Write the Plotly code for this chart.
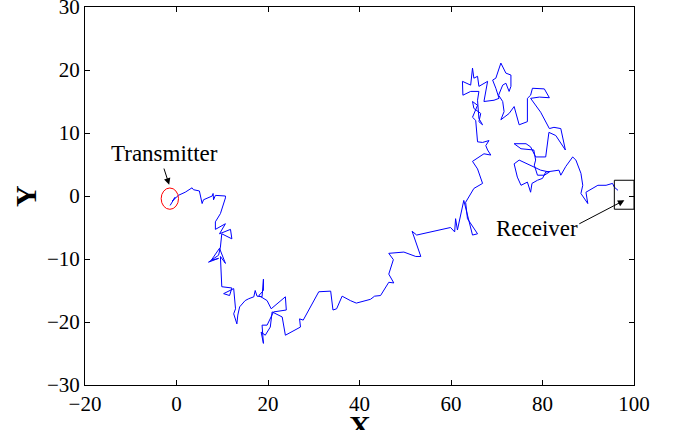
import plotly.graph_objects as go

# Random-walk path (data units)
path_x = [-1.4, -0.3, -0.9, 0.4, 1.9, 3.4, 3.7, 5.0, 5.6, 5.9, 6.7, 7.8, 8.0, 8.1, 8.5, 10.7, 10.7,
          9.6, 8.5, 8.5, 10.7, 9.4, 11.8, 12.1, 9.9, 9.6, 9.2, 7.0, 9.2, 7.6, 9.4, 10.7, 9.6,
          9.9, 12.1, 11.6, 10.3, 12.5, 12.9, 12.5, 13.2, 13.4, 13.8, 15.0, 15.8, 16.9, 17.2, 17.6,
          18.7, 19.0, 19.0, 18.0, 19.8, 20.7, 23.8, 24.0, 21.2, 19.8, 18.7, 19.0, 18.5, 19.4, 20.5,
          20.9, 23.1, 23.8, 27.1, 26.9, 27.7, 31.1, 33.7, 34.2, 35.0, 36.2, 38.0, 39.3, 42.4, 43.3,
          44.6, 46.4, 47.5, 46.4, 47.4, 46.4, 49.7, 52.3, 53.4, 51.9, 51.5, 52.5,
          59.9, 60.8, 61.0, 61.4, 62.8, 64.7, 65.8, 63.6, 63.2, 65.0, 66.9, 65.8, 64.7, 67.2, 68.7,
          68.0, 67.6, 68.3, 66.9, 65.8, 65.4, 64.7, 65.8,
          64.7, 65.0, 66.5, 66.1, 66.9, 66.1, 65.8, 66.1, 64.3, 62.6, 62.5, 64.3, 64.7, 65.0, 65.8,
          66.1, 68.0, 67.2, 69.4, 70.5, 69.8, 69.1, 69.8, 70.2, 70.9, 72.0, 73.1, 73.1, 72.7, 72.0,
          71.3, 70.4, 71.3, 71.6, 70.9, 72.7, 73.8, 74.9, 76.7, 76.7, 77.4, 77.8, 80.4, 81.5, 79.3,
          77.4, 79.6, 81.5, 82.5, 84.0, 85.0, 82.9, 81.4, 80.7, 78.5, 77.4, 76.4, 73.8, 75.3, 78.1,
          78.5, 78.2, 78.9, 80.4, 81.5, 79.6, 74.9, 73.8, 74.5, 75.3, 76.7, 77.4, 77.7, 78.9, 80.0,
          80.7, 83.6, 84.0, 85.1, 86.6, 87.3, 88.4, 88.8, 88.4, 89.9, 89.5, 92.1, 93.9, 95.3, 95.7,
          96.5]
path_y = [-1.5, -0.2, -0.8, 0.1, 0.6, 1.3, 1.0, 0.8, -1.2, -0.6, -0.4, 0.0, 0.4, -0.6, 0.1, 0.0, -0.3,
          -2.8, -4.1, -5.3, -4.4, -6.0, -5.3, -6.8, -6.0, -8.1, -9.4, -10.5, -9.9, -10.2, -8.3, -10.7, -9.6,
          -14.4, -14.6, -15.8, -15.5, -14.7, -17.9, -18.7, -20.3, -18.9, -17.6, -16.6, -16.3, -16.0, -15.0, -15.9,
          -16.0, -13.2, -15.0, -15.8, -16.6, -17.9, -16.0, -18.1, -18.4, -20.5, -20.5, -23.4, -21.6, -22.1, -20.8,
          -18.4, -19.2, -22.1, -20.8, -19.5, -19.7, -15.2, -15.1, -18.1, -17.9, -15.9, -16.6, -17.0, -16.4, -15.9,
          -15.8, -13.7, -13.8, -12.4, -10.1, -9.1, -8.9, -9.6, -9.6, -6.5, -5.6, -6.2,
          -5.0, -5.7, -3.6, -5.4, -0.7, -6.2, -6.0, -3.6, -1.0, 1.2, 2.0, 4.3, 5.5, 6.7, 6.5,
          7.3, 8.0, 8.8, 8.5, 8.6, 12.0, 12.5, 14.4,
          15.0, 13.9, 13.1, 11.8, 11.3, 12.3, 15.2, 16.6, 16.6, 16.0, 18.2, 17.6, 20.3, 18.7, 19.0,
          17.4, 18.2, 15.0, 15.2, 15.5, 17.1, 18.4, 18.7, 19.6, 21.1, 19.5, 19.2, 17.4, 16.6, 17.9,
          17.6, 16.0, 15.0, 13.4, 12.1, 13.1, 14.2, 11.3, 11.8, 15.5, 16.0, 17.1, 17.0, 15.6, 15.7,
          15.5, 13.3, 10.7, 10.9, 10.7, 7.3, 9.6, 10.1, 6.2, 6.2, 7.8, 8.3, 8.3, 7.5, 7.3,
          5.7, 4.9, 3.3, 3.3, 3.8, 4.1, 5.7, 5.1, 3.0, 1.7, 2.2, 0.6, 2.0, 2.5, 2.8,
          3.8, 4.1, 3.3, 4.7, 6.2, 5.7, 3.6, 1.7, 0.4, -1.2, 0.6, 1.7, 1.7, 2.0, 1.4,
          0.9]

x_ticks = [-20, 0, 20, 40, 60, 80, 100]
y_ticks = [-30, -20, -10, 0, 10, 20, 30]

FONT = "Liberation Serif"

fig = go.Figure()
fig.add_trace(go.Scatter(x=path_x, y=path_y, mode="lines",
                         line=dict(color="#0000FF", width=1), hoverinfo="skip",
                         showlegend=False))

# Transmitter circle and receiver box
fig.add_shape(type="circle", xref="x", yref="y", x0=-3.35, x1=0.44, y0=-2.11, y1=1.27,
              line=dict(color="#FF0000", width=1))
fig.add_shape(type="rect", xref="x", yref="y", x0=95.7, x1=100, y0=-2.1, y1=2.5,
              line=dict(color="black", width=1))

ann = []
ann.append(dict(x=-2.6, y=6.8, xref="x", yref="y", text="Transmitter", showarrow=False,
                font=dict(family=FONT, size=23, color="black")))
ann.append(dict(x=-1.6, y=1.8, xref="x", yref="y", text="", showarrow=True,
                ax=-5.7, ay=-17.6, arrowhead=2, arrowsize=1.3, arrowwidth=1, arrowcolor="black"))
ann.append(dict(x=78.7, y=-5.1, xref="x", yref="y", text="Receiver", showarrow=False,
                font=dict(family=FONT, size=23, color="black")))
ann.append(dict(x=97.9, y=-0.68, xref="x", yref="y", text="", showarrow=True,
                ax=-46.6, ay=24.3, arrowhead=2, arrowsize=1.3, arrowwidth=1, arrowcolor="black"))
# Axis labels
ann.append(dict(x=0.5, y=0, xref="paper", yref="paper", text="<b>X</b>", showarrow=False,
                xanchor="center", yanchor="top", yshift=-22,
                font=dict(family=FONT, size=30, color="black")))
ann.append(dict(x=0, y=0.5, xref="paper", yref="paper", text="<b>Y</b>", showarrow=False,
                xanchor="center", yanchor="middle", xshift=-60, textangle=-90,
                font=dict(family=FONT, size=30, color="black")))

axis_common = dict(showgrid=False, zeroline=False, showline=True, linecolor="black",
                   linewidth=1, mirror="ticks", ticks="inside", ticklen=5, tickwidth=1,
                   tickcolor="black", ticklabeloverflow="allow", automargin=False,
                   tickfont=dict(family=FONT, size=21, color="black"))

fig.update_layout(
    width=678, height=430,
    margin=dict(l=85, r=44, t=7, b=45, autoexpand=False),
    paper_bgcolor="white", plot_bgcolor="white",
    xaxis=dict(range=[-20, 100], tickvals=x_ticks, **axis_common),
    yaxis=dict(range=[-30, 30], tickvals=y_ticks, **axis_common),
    annotations=ann,
    hovermode=False,
)

fig.write_html("out.html", config={"displayModeBar": False},
               post_script="document.body.style.margin='0';document.body.style.overflow='hidden';")
